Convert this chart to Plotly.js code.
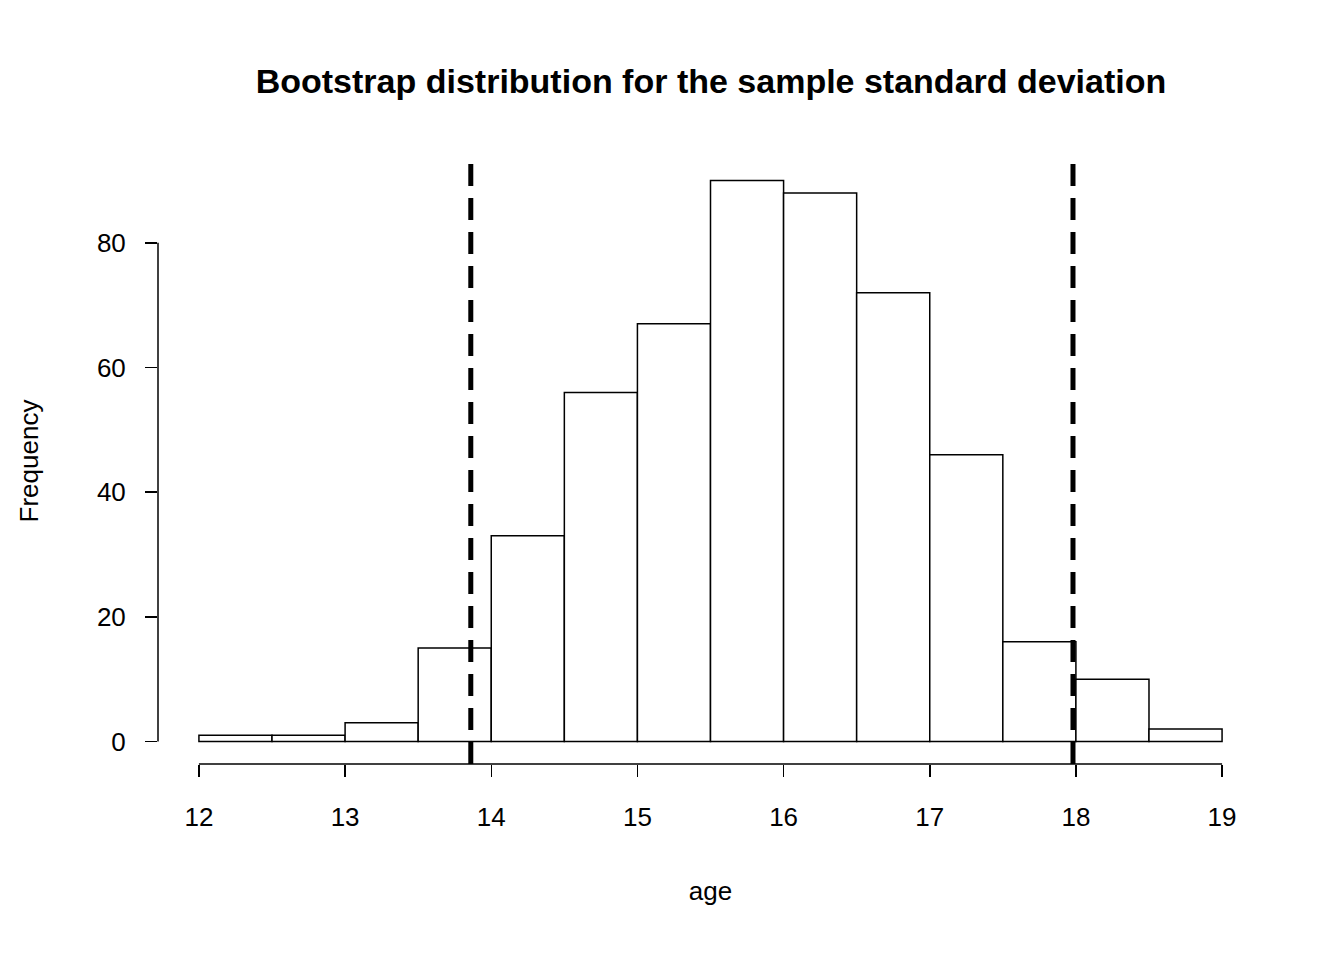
<!DOCTYPE html>
<html><head><script src="https://cdn.plot.ly/plotly-3.0.1.min.js"></script></head>
<body style="margin:0">
<div id="c" style="width:1344px;height:960px"></div>
<script>
const binStarts = [12,12.5,13,13.5,14,14.5,15,15.5,16,16.5,17,17.5,18,18.5];
const counts = [1,1,3,15,33,56,67,90,88,72,46,16,10,2];
const ciBounds = [13.86, 17.98];
const xTicks = [12,13,14,15,16,17,18,19];
const yTicks = [0,20,40,60,80];
const binW = 0.5;
const centers = binStarts.map(s => s + binW/2);
const F = {family:'Liberation Sans, Arial, sans-serif', size:26, color:'#000'};
const shapes = ciBounds.map(v => ({type:'line', xref:'x', yref:'paper', x0:v, x1:v, y0:0, y1:1,
  line:{color:'#000', width:5, dash:'22px,12px'}}));
shapes.push({type:'line', xref:'x', yref:'paper', x0:12, x1:19, y0:0, y1:0, line:{color:'#000', width:1.5}});
shapes.push({type:'line', xref:'paper', yref:'y', x0:0, x1:0, y0:0, y1:80, line:{color:'#000', width:1.5}});
Plotly.newPlot('c', [{type:'bar', x:centers, y:counts, width:binW,
  marker:{color:'#fff', line:{color:'#000', width:1.5}}, hoverinfo:'none'}], {
  width:1344, height:960, margin:{l:158, r:81, t:158, b:196},
  paper_bgcolor:'#fff', plot_bgcolor:'#fff', showlegend:false, font:F,
  title:{text:'<b>Bootstrap distribution for the sample standard deviation</b>', x:0.529, xanchor:'center', y:0.916, yanchor:'middle', font:{family:F.family, size:34, color:'#000'}},
  xaxis:{range:[11.72,19.28], tickvals:xTicks, ticks:'outside', ticklen:12, tickwidth:1.5, tickcolor:'#000',
    showgrid:false, zeroline:false, showline:false, tickfont:F, ticklabelstandoff:18,
    title:{text:'age', font:F, standoff:50}},
  yaxis:{range:[-3.6,93.6], tickvals:yTicks, ticks:'outside', ticklen:12, tickwidth:1.5, tickcolor:'#000',
    showgrid:false, zeroline:false, showline:false, tickfont:F, ticklabelstandoff:14,
    title:{text:'Frequency', font:F, standoff:50}},
  shapes:shapes
}, {staticPlot:true});
</script></body></html>
